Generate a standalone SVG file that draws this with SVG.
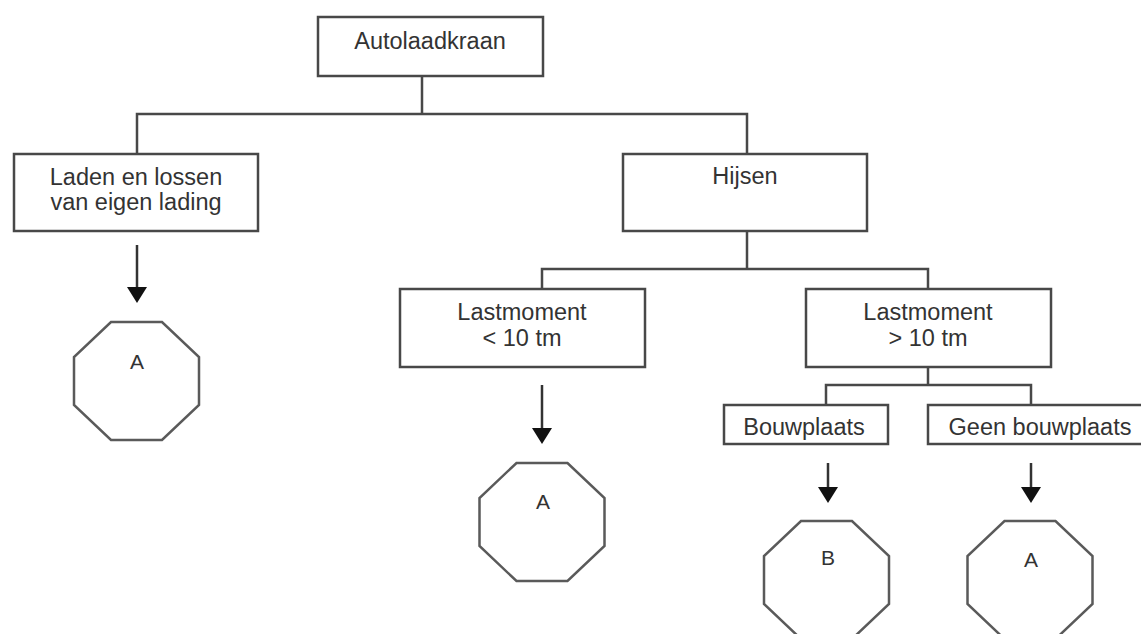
<svg xmlns="http://www.w3.org/2000/svg" width="1141" height="634" viewBox="0 0 1141 634">
  <style>
    .box { fill: #ffffff; stroke: #484848; stroke-width: 2.5; }
    .oct { fill: #ffffff; stroke: #5a5a5a; stroke-width: 2.5; stroke-linejoin: miter; }
    .wire { fill: none; stroke: #484848; stroke-width: 2.5; }
    .lbl { font-family: "Liberation Sans", Arial, sans-serif; font-size: 23.5px; fill: #333333; text-anchor: middle; }
    .olbl { font-family: "Liberation Sans", Arial, sans-serif; font-size: 21px; fill: #333333; text-anchor: middle; }
    .shaft { fill: none; stroke: #333333; stroke-width: 2.5; }
    .head { fill: #111111; }
  </style>
  <defs>
    <polygon id="octagon" class="oct" points="-25.5,0 25.5,0 62.5,35 62.5,83 25.5,118 -25.5,118 -62.5,83 -62.5,35"/>
  </defs>
  <rect width="1141" height="634" fill="#ffffff"/>

  <g id="connectors">
    <path class="wire" d="M422,76 V114 M137,154 V114 H747 V154"/>
    <path class="wire" d="M747,231 V269 M542,289 V269 H928 V289"/>
    <path class="wire" d="M928,367 V385 M826,405 V385 H1031 V405"/>
    <g id="arrow-left">
      <line class="shaft" x1="137" y1="245" x2="137" y2="289"/>
      <polygon class="head" points="127,287 147,287 137,303"/>
    </g>
    <g id="arrow-mid">
      <line class="shaft" x1="542" y1="385" x2="542" y2="430"/>
      <polygon class="head" points="532,428 552,428 542,444"/>
    </g>
    <g id="arrow-b">
      <line class="shaft" x1="828" y1="463" x2="828" y2="489"/>
      <polygon class="head" points="818,487 838,487 828,503"/>
    </g>
    <g id="arrow-a2">
      <line class="shaft" x1="1031" y1="463" x2="1031" y2="489"/>
      <polygon class="head" points="1021,487 1041,487 1031,503"/>
    </g>
  </g>

  <g id="node-autolaadkraan">
    <rect class="box" x="318" y="17" width="225" height="59"/>
    <text class="lbl" x="430" y="49">Autolaadkraan</text>
  </g>

  <g id="node-laden">
    <rect class="box" x="14" y="154" width="244" height="77"/>
    <text class="lbl" x="136" y="185">Laden en lossen</text>
    <text class="lbl" x="136" y="210">van eigen lading</text>
  </g>

  <g id="node-hijsen">
    <rect class="box" x="623" y="154" width="244" height="77"/>
    <text class="lbl" x="745" y="184">Hijsen</text>
  </g>

  <g id="node-last-klein">
    <rect class="box" x="400" y="289" width="245" height="78"/>
    <text class="lbl" x="522" y="320">Lastmoment</text>
    <text class="lbl" x="522" y="346">&lt; 10 tm</text>
  </g>

  <g id="node-last-groot">
    <rect class="box" x="806" y="289" width="245" height="78"/>
    <text class="lbl" x="928" y="320">Lastmoment</text>
    <text class="lbl" x="928" y="346">&gt; 10 tm</text>
  </g>

  <g id="node-bouwplaats">
    <rect class="box" x="724" y="405" width="164" height="39"/>
    <text class="lbl" x="804" y="435">Bouwplaats</text>
  </g>

  <g id="node-geen-bouwplaats">
    <rect class="box" x="928" y="405" width="220" height="39"/>
    <text class="lbl" x="1040" y="435">Geen bouwplaats</text>
  </g>

  <g id="node-oct-a1">
    <use href="#octagon" x="136.5" y="322"/>
    <text class="olbl" x="137" y="369">A</text>
  </g>

  <g id="node-oct-a2">
    <use href="#octagon" x="542" y="463"/>
    <text class="olbl" x="543" y="509">A</text>
  </g>

  <g id="node-oct-b">
    <use href="#octagon" x="826.5" y="521"/>
    <text class="olbl" x="828" y="565">B</text>
  </g>

  <g id="node-oct-a3">
    <use href="#octagon" x="1030" y="521"/>
    <text class="olbl" x="1031" y="567">A</text>
  </g>
</svg>
